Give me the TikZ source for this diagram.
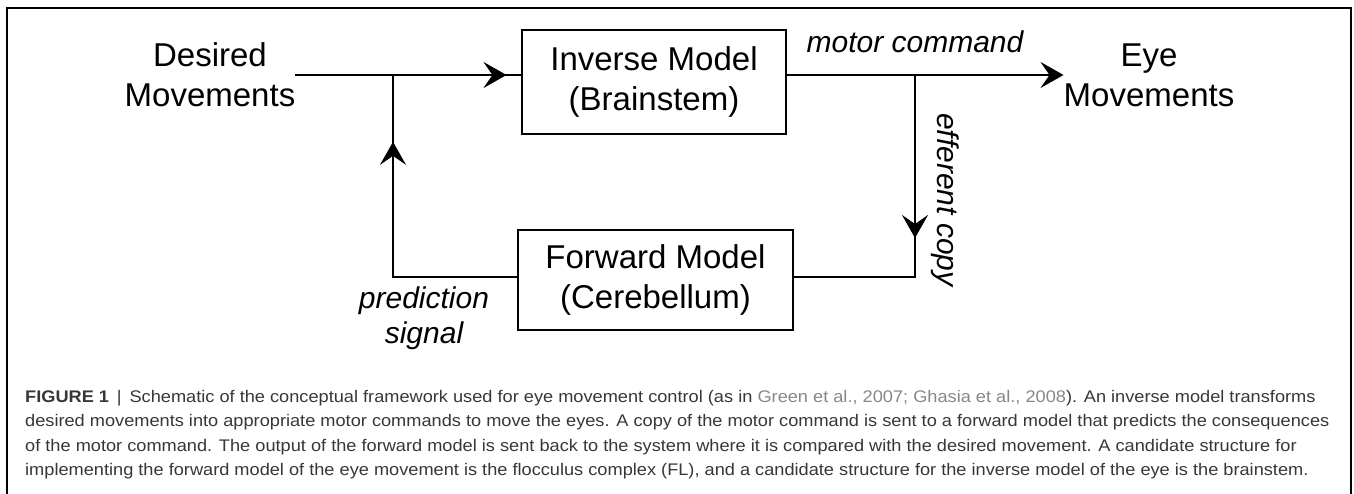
\documentclass[tikz,border=0pt]{standalone}
\usepackage{fontspec}
\setmainfont{Liberation Sans}
\newfontfamily\capfont[FakeStretch=1.083]{Liberation Sans}
\usetikzlibrary{arrows.meta,decorations.markings,positioning}
\definecolor{captext}{RGB}{55,55,55}
\definecolor{capref}{RGB}{135,135,135}
\tikzset{
	block/.style={draw,line width=2.3pt,align=center,inner sep=0pt,font=\fontsize{33}{40}\selectfont},
	bigtext/.style={align=center,inner sep=0pt,font=\fontsize{33}{40}\selectfont},
	sig/.style={align=center,inner sep=0pt,font=\fontsize{30}{35}\selectfont\itshape},
	wire/.style={line width=2.3pt},
	bigtip/.style={-{Stealth[length=23pt,width=26pt,inset=9pt]}},
	midtip/.style={postaction={decorate},decoration={markings,mark=at position #1 with {\arrow{Stealth[length=23pt,width=26pt,inset=9pt]}}}}
}

\begin{document}
\begin{tikzpicture}[x=1pt,y=-1pt]
	\useasboundingbox (0,0) rectangle (1354,494);
	\draw[line width=1.4pt] (7,494) -- (7,8) -- (1351,8) -- (1351,494);

	\node (desired) at (210,75) [bigtext] {Desired\\Movements};
	\node (inverse) at (654,82) [block,minimum width=264pt,minimum height=104pt] {Inverse Model\\(Brainstem)};
	\node (forward) at (655.5,280) [block,minimum width=275pt,minimum height=100pt] {Forward Model\\(Cerebellum)};
	\node (eye) at (1149,75) [bigtext] {Eye\\Movements};

	\coordinate (jl) at (393,75);
	\coordinate (jr) at (915,75);
	\coordinate (fb) at (393,277);
	\coordinate (ec) at (915,277);

	\draw[wire,midtip=211pt] (desired.east) -- (inverse.west |- jl);
	\draw[wire,bigtip] (inverse.east |- jr) -- (eye.west);
	\draw[wire,midtip=163pt] (jr) -- (ec) -- (forward.east |- ec);
	\draw[wire,midtip=259pt] (forward.west |- fb) -- (fb) -- (jl);

	\node (motor) at (915,53) [sig,anchor=base] {motor command};
	\node (efferent) at (945,200) [sig,rotate=-90] {efferent copy};
	\node (predict) at (424,318) [sig] {prediction\\signal};

	\node (caption) at (25,390) [anchor=north west,align=left,inner sep=0pt,text=captext,
		font=\capfont\fontsize{16.8}{24.5}\selectfont] {%
		\textbf{FIGURE 1} \,|\, Schematic of the conceptual framework used for eye movement control (as in {\color{capref}Green et al., 2007; Ghasia et al., 2008}). An inverse model transforms\\
		desired movements into appropriate motor commands to move the eyes. A copy of the motor command is sent to a forward model that predicts the consequences\\
		of the motor command. The output of the forward model is sent back to the system where it is compared with the desired movement. A candidate structure for\\
		implementing the forward model of the eye movement is the flocculus complex (FL), and a candidate structure for the inverse model of the eye is the brainstem.};
\end{tikzpicture}
\end{document}
